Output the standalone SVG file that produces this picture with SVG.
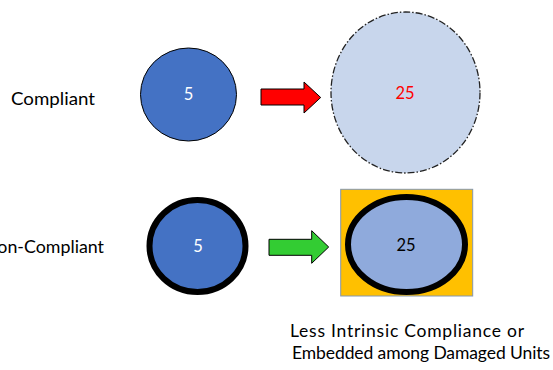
<svg xmlns="http://www.w3.org/2000/svg" width="553" height="370" viewBox="0 0 553 370">
<style>
text{font-family:Lato,"Open Sans","Liberation Sans",sans-serif;font-size:17.5px;fill:#000}
.num{text-anchor:middle;font-size:16.5px}
.w{fill:#fff}
</style>
<rect width="553" height="370" fill="#fff"/>
<g id="label-compliant"><text x="11" y="105" textLength="84" lengthAdjust="spacingAndGlyphs">Compliant</text></g>
<g id="label-noncompliant"><text x="104" y="253" text-anchor="end" textLength="120" lengthAdjust="spacingAndGlyphs">Non-Compliant</text></g>
<g id="node-c5">
<ellipse cx="188.5" cy="94.5" rx="48" ry="46.5" fill="#4472C4" stroke="#000" stroke-width="1"/>
<text class="num w" x="188.5" y="100">5</text>
</g>
<g id="node-c25">
<ellipse cx="405.5" cy="92.5" rx="74.5" ry="80.5" fill="#C8D6EC" stroke="#222" stroke-width="1.3" stroke-dasharray="7 2 1.5 2"/>
<text class="num" x="405" y="99" style="fill:#f00">25</text>
</g>
<g id="node-n5">
<ellipse cx="197.5" cy="246" rx="48" ry="46" fill="#4472C4" stroke="#000" stroke-width="6"/>
<text class="num w" x="198" y="252">5</text>
</g>
<g id="node-n25">
<rect x="340.7" y="189.3" width="132" height="106.7" fill="#FFC000" stroke="#8497B0" stroke-width="1"/>
<ellipse cx="406.5" cy="244.5" rx="58.5" ry="47.5" fill="#8FAADC" stroke="#000" stroke-width="6"/>
<text class="num" x="406" y="251">25</text>
</g>
<g id="connectors">
<polygon points="261,89 304,89 304,82 320.7,97.5 304,113 304,105 261,105" fill="#FF0000" stroke="#000" stroke-width="1"/>
<polygon points="269,239.3 311.7,239.3 311.7,230.7 328.7,247 311.7,263.3 311.7,255.3 269,255.3" fill="#33CC33" stroke="#000" stroke-width="1"/>
</g>
<g id="caption">
<text x="290" y="337" textLength="234" lengthAdjust="spacing">Less Intrinsic Compliance or</text>
<text x="292" y="359" textLength="258" lengthAdjust="spacing">Embedded among Damaged Units</text>
</g>
</svg>
